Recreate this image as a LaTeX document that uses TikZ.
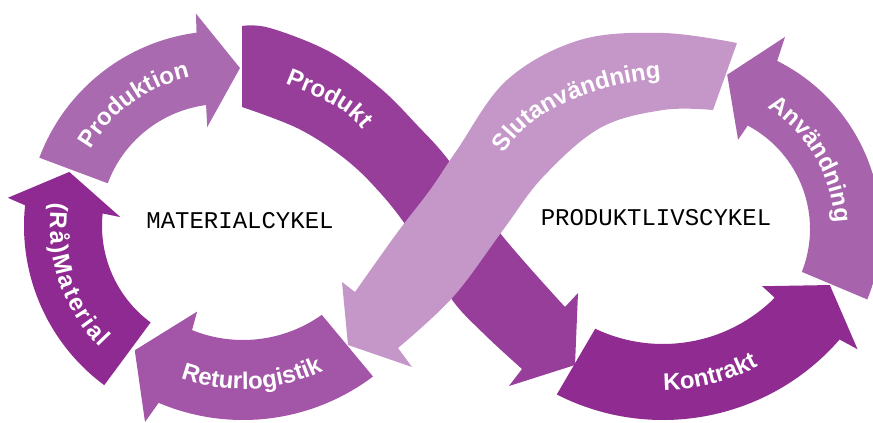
\documentclass[tikz,border=0pt]{standalone}
\usepackage{fontspec}
\setmainfont{Liberation Sans}
\newfontfamily\monofnt{Liberation Mono}
\usetikzlibrary{calc,decorations.text}
\definecolor{cRam}{RGB}{142,42,145}
\definecolor{cProdn}{RGB}{169,106,175}
\definecolor{cProdt}{RGB}{150,62,154}
\definecolor{cSlut}{RGB}{196,151,200}
\definecolor{cAnv}{RGB}{168,99,173}
\definecolor{cKon}{RGB}{143,43,145}
\definecolor{cRet}{RGB}{163,86,167}
\newcommand\lblfont{\fontsize{24}{24}\selectfont\bfseries}
\begin{document}
\begin{tikzpicture}[x=1pt,y=1pt,
  cyc/.style={font=\monofnt\fontsize{24}{24}\selectfont, text=black, inner sep=0pt}]
\useasboundingbox (0,0) rectangle (873,423);
\coordinate (L) at (222,197);
\coordinate (RL) at (243,219);
\coordinate (K) at (663,237);
\coordinate (A) at (693,194);

% (Rå)Material
\fill[cRam] ($(L)+(233.5:198)$) arc[start angle=233.5,end angle=174,radius=198]
  -- ($(L)+(172.5:216)$) -- ($(L)+(160.5:162)$) -- ($(L)+(175:102)$)
  -- ($(L)+(174:120)$) arc[start angle=174,end angle=233.5,radius=120] -- cycle;
% Produktion
\fill[cProdn] ($(L)+(159.5:195)$) arc[start angle=159.5,end angle=97.5,radius=195]
  -- ($(L)+(97:214)$) -- ($(L)+(83.5:159)$) -- ($(L)+(98.5:100)$)
  -- ($(L)+(97.5:122)$) arc[start angle=97.5,end angle=159.5,radius=122] -- cycle;
% Produkt
\fill[cProdt] plot[smooth,tension=0.6] coordinates {(242,397) (270,395) (330,371) (380,335) (417,298) (450,261) (500,190) (565,116)}
  -- (578,130) -- (575,58) -- (509,37)
  -- plot[smooth,tension=0.6] coordinates {(522,54) (483,90) (450,126) (407,196) (373,238) (340,268) (297,295) (242,316)} -- cycle;
% Kontrakt
\fill[cKon] ($(K)+(243:234)$) arc[start angle=243,end angle=319,radius=234]
  -- ($(K)+(320:254)$) -- ($(K)+(329.3:194)$) -- ($(K)+(314.7:141)$)
  -- ($(K)+(315:158)$) arc[start angle=315,end angle=244.6,radius=158] -- cycle;
% Användning
\fill[cAnv] ($(A)+(-22:188)$) arc[start angle=-22,end angle=63.4,radius=188]
  -- ($(A)+(64.4:213)$) -- ($(A)+(77.5:158)$) -- ($(A)+(63.2:100)$)
  -- ($(A)+(62.1:117)$) arc[start angle=62.1,end angle=-21.5,radius=117] -- cycle;
% Slutanvändning
\fill[cSlut] plot[smooth,tension=0.6] coordinates {(737,380) (663,390) (580,383) (507,343) (457,273) (430,233) (397,190) (355,131)}
  -- (342,141) -- (348,78) -- (412,56)
  -- plot[smooth,tension=0.6] coordinates {(398,75) (453,126) (503,193) (543,246) (600,295) (663,313) (713,313)} -- cycle;
% Returlogistik
\fill[cRet] ($(RL)+(307:216)$) arc[start angle=307,end angle=247,radius=216]
  -- ($(RL)+(245.8:239)$) -- ($(RL)+(233.5:182)$) -- ($(RL)+(246.9:117)$)
  -- ($(RL)+(248:136)$) arc[start angle=248,end angle=305.4,radius=136] -- cycle;

% labels along the arrows
\path[decorate,decoration={text along path,text={|\lblfont|(Rå)Material},text color=white,text align=fit to path}]
  ($(L)+(172:172)$) arc[start angle=172,end angle=225,radius=172];
\path[decorate,decoration={text along path,text={|\lblfont|Produktion},text color=white,text align=center}]
  ($(L)+(160:152)$) arc[start angle=160,end angle=92,radius=152];
\path[decorate,decoration={text along path,text={|\lblfont|Produkt},text color=white,text align=center}]
  (281,341) .. controls (310.6,328.3) and (346.2,317.9) .. (365,290);
\path[decorate,decoration={text along path,text={|\lblfont|Kontrakt},text color=white,text align=center}]
  ($(K)+(265:204)$) arc[start angle=265,end angle=303,radius=204];
\path[decorate,decoration={text along path,text={|\lblfont|Användning},text color=white,text align=center}]
  ($(A)+(65:142)$) arc[start angle=65,end angle=-4,radius=142];
\path[decorate,decoration={text along path,text={|\lblfont|Slutanvändning},text color=white,text align=center}]
  (502,266) .. controls (532,318) and (605,340) .. (665,345);
\path[decorate,decoration={text along path,text={|\lblfont|Returlogistik},text color=white,text align=center}]
  ($(RL)+(245:185)$) arc[start angle=245,end angle=301,radius=185];

\node[cyc] (mat) at (240,202) {MATERIALCYKEL};
\node[cyc] (plc) at (656,205) {PRODUKTLIVSCYKEL};
\end{tikzpicture}
\end{document}
